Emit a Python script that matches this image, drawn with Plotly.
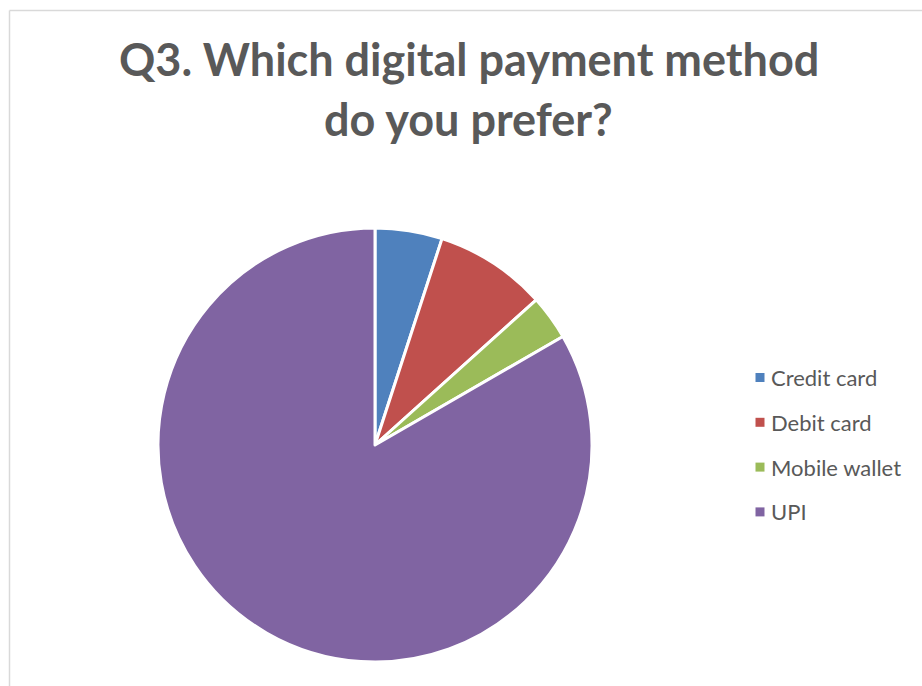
import plotly.graph_objects as go

# Survey responses: preferred digital payment method
labels = ["Credit card", "Debit card", "Mobile wallet", "UPI"]
counts = [3, 5, 2, 50]
colors = ["#4F81BD", "#C0504D", "#9BBB59", "#8064A2"]
title_lines = ["Q3. Which digital payment method", "do you prefer?"]

W, H = 922, 686
TEXT = "#595959"
FONT = "Lato"


def px(x):
    return x / W


def py(y):
    return 1 - y / H


fig = go.Figure(
    go.Pie(
        labels=labels,
        values=counts,
        sort=False,
        direction="clockwise",
        rotation=0,
        marker=dict(colors=colors, line=dict(color="white", width=3)),
        textinfo="none",
        domain=dict(x=[px(158), px(592)], y=[py(662), py(228)]),
        showlegend=False,
    )
)

shapes = [
    # chart frame (top and left edges)
    dict(type="line", xref="paper", yref="paper", x0=px(9.5), x1=1.05,
         y0=py(10.5), y1=py(10.5), line=dict(color="#d9d9d9", width=1.5)),
    dict(type="line", xref="paper", yref="paper", x0=px(9.5), x1=px(9.5),
         y0=py(10.5), y1=-0.05, line=dict(color="#d9d9d9", width=1.5)),
]
annotations = []

# Title, one annotation per line
for i, line in enumerate(title_lines):
    annotations.append(dict(
        text=f"<b>{line}</b>", xref="paper", yref="paper",
        x=px(469), y=py(59 + 60 * i), xanchor="center", yanchor="middle",
        showarrow=False, font=dict(family=FONT, size=45, color=TEXT),
    ))

# Legend: colour swatches with labels
for i, (lab, col) in enumerate(zip(labels, colors)):
    yc = 377.5 + 44.8 * i
    shapes.append(dict(type="rect", xref="paper", yref="paper",
                       x0=px(755.5), x1=px(764.5), y0=py(yc + 4.5), y1=py(yc - 4.5),
                       fillcolor=col, line=dict(width=0)))
    annotations.append(dict(
        text=lab, xref="paper", yref="paper", x=px(768.5), y=py(yc),
        xanchor="left", yanchor="middle", showarrow=False,
        font=dict(family=FONT, size=22, color=TEXT),
    ))

fig.update_layout(
    width=W, height=H,
    margin=dict(l=0, r=0, t=0, b=0),
    paper_bgcolor="white",
    plot_bgcolor="white",
    shapes=shapes,
    annotations=annotations,
)

fig.write_html("out.html")
